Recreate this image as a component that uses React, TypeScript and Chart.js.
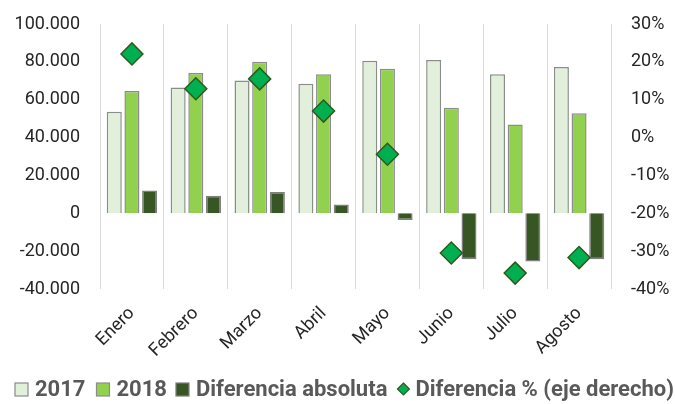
import React, { useEffect, useRef } from "react";
import { Chart, registerables } from "chart.js";

Chart.register(...registerables);

const categories = ["Enero", "Febrero", "Marzo", "Abril", "Mayo", "Junio", "Julio", "Agosto"];
const values2017 = [53600, 66500, 70200, 68400, 80600, 81000, 73500, 77300];
const values2018 = [64600, 74100, 80100, 73500, 76400, 55700, 46900, 52900];
const diffAbs = [12000, 9200, 11300, 4700, -3500, -24300, -25500, -24300];
const diffPct = [22.1, 12.9, 15.5, 7.0, -4.4, -30.5, -35.8, -31.7];
const leftTicks = { min: -40000, max: 100000, step: 20000 };
const rightTicks = { min: -40, max: 30, step: 10 };

const fmtThousands = (v: number) => {
  if (v === 0) return "0";
  const s = Math.abs(v).toString().replace(/\B(?=(\d{3})+(?!\d))/g, ".");
  return (v < 0 ? "-" : "") + s;
};

// Legend drawn on the canvas in a row starting at the left edge
const rowLegend = {
  id: "rowLegend",
  afterDraw(chart: any) {
    const ctx = chart.ctx as CanvasRenderingContext2D;
    const y = 389;
    const gaps = [11, 9, 10, 10];
    let x = 15;
    ctx.save();
    ctx.font = "bold 22px Roboto";
    ctx.textBaseline = "middle";
    chart.data.datasets.forEach((ds: any, i: number) => {
      const isPoint = ds.type === "line";
      if (isPoint) {
        const r = 6;
        const cx = x + r;
        ctx.beginPath();
        ctx.moveTo(cx, y - r);
        ctx.lineTo(cx + r, y);
        ctx.lineTo(cx, y + r);
        ctx.lineTo(cx - r, y);
        ctx.closePath();
        ctx.fillStyle = ds.pointBackgroundColor;
        ctx.fill();
        ctx.lineWidth = 1.2;
        ctx.strokeStyle = ds.pointBorderColor;
        ctx.stroke();
        x += 2 * r + 6;
      } else {
        ctx.fillStyle = ds.backgroundColor;
        ctx.fillRect(x, y - 6, 13, 13);
        ctx.lineWidth = 1.2;
        ctx.strokeStyle = ds.borderColor;
        ctx.strokeRect(x, y - 6, 13, 13);
        x += 13 + 7;
      }
      ctx.fillStyle = "#595959";
      const w = ctx.measureText(ds.label).width;
      ctx.fillText(ds.label, x, y + 1);
      x += w + gaps[i];
    });
    ctx.restore();
  },
};

const fitY = (width: number) => (s: any) => {
  s.width = width;
  s.paddingTop = 0;
  s.paddingBottom = 0;
};

export default function App() {
  const ref = useRef<HTMLCanvasElement | null>(null);
  useEffect(() => {
    document.body.style.margin = "0";
    const tickFont = { family: "Roboto", size: 18 };
    const chart = new Chart(ref.current as HTMLCanvasElement, {
      type: "bar",
      plugins: [rowLegend],
      data: {
        labels: categories,
        datasets: [
          {
            label: "2017",
            data: values2017,
            backgroundColor: "#E2EFDA",
            borderColor: "#8C8C8C",
            borderWidth: 1.5,
            yAxisID: "y",
            order: 2,
          },
          {
            label: "2018",
            data: values2018,
            backgroundColor: "#92D050",
            borderColor: "#8C8C8C",
            borderWidth: 1.5,
            yAxisID: "y",
            order: 2,
          },
          {
            label: "Diferencia absoluta",
            data: diffAbs,
            backgroundColor: "#375623",
            borderColor: "#7F7F7F",
            borderWidth: 1.5,
            yAxisID: "y",
            order: 2,
          },
          {
            type: "line",
            label: "Diferencia % (eje derecho)",
            data: diffPct,
            yAxisID: "y1",
            showLine: false,
            pointStyle: "rectRot",
            pointRadius: 11,
            pointBackgroundColor: "#00B050",
            pointBorderColor: "#2F5A1E",
            pointBorderWidth: 1.5,
            backgroundColor: "#00B050",
            borderColor: "#2F5A1E",
            borderWidth: 1.5,
            order: 0,
          } as any,
        ],
      },
      options: {
        responsive: false,
        animation: false,
        layout: { padding: { top: 24, left: 0, right: 0, bottom: 35 } },
        datasets: {
          bar: { categoryPercentage: 0.83, barPercentage: 0.85 },
        },
        plugins: {
          title: { display: false },
          tooltip: { enabled: false },
          legend: { display: false },
        },
        scales: {
          x: {
            grid: { display: true, color: "#D9D9D9", lineWidth: 1, drawTicks: false, offset: true },
            border: { display: false },
            ticks: { color: "#262626", font: tickFont, minRotation: 45, maxRotation: 45, padding: 14 },
            afterFit: (s: any) => { s.height = 80; },
          },
          y: {
            position: "left",
            min: leftTicks.min,
            max: leftTicks.max,
            grid: { display: false, drawTicks: false },
            border: { display: false },
            ticks: {
              stepSize: leftTicks.step,
              color: "#262626",
              font: tickFont,
              padding: 20,
              callback: (v: any) => fmtThousands(Number(v)),
            },
            afterFit: fitY(100),
          },
          y1: {
            position: "right",
            min: rightTicks.min,
            max: rightTicks.max,
            grid: { display: false, drawTicks: false },
            border: { display: false },
            ticks: {
              stepSize: rightTicks.step,
              color: "#262626",
              font: tickFont,
              padding: 20,
              callback: (v: any) => `${v}%`,
            },
            afterFit: fitY(64),
          },
        },
      } as any,
    });
    return () => chart.destroy();
  }, []);
  return (
    <div style={{ width: 675, height: 404 }}>
      <canvas ref={ref} width={675} height={404} style={{ display: "block" }} />
    </div>
  );
}
